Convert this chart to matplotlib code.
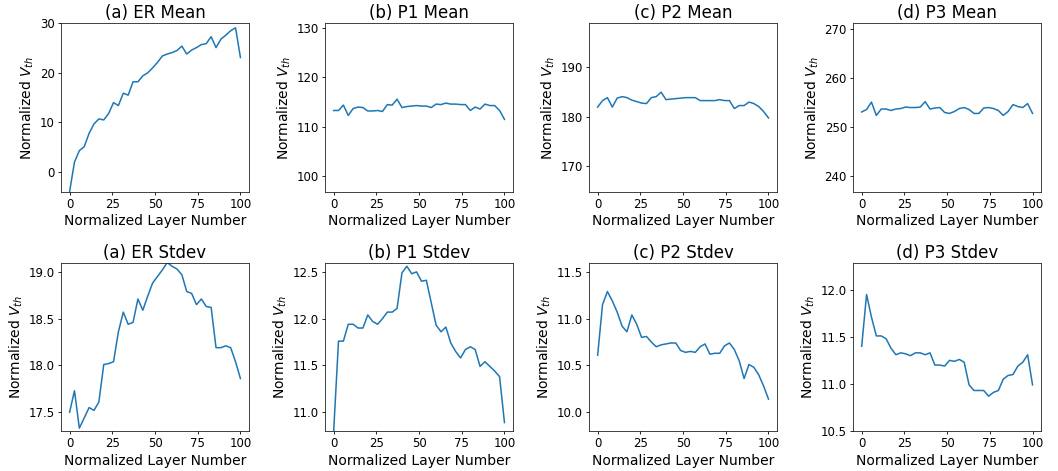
import numpy as np
import matplotlib
matplotlib.use('Agg')
import matplotlib.pyplot as plt

# 36 normalized layer positions (0..100)
layers = np.linspace(0, 100, 36)

er_mean = [-4.0, 2.0, 4.3, 5.1, 7.8, 9.7, 10.7, 10.5, 11.8, 14.0, 13.4, 15.9,
           15.5, 18.2, 18.2, 19.4, 20.0, 21.0, 22.1, 23.4, 23.8, 24.1, 24.5, 25.4,
           23.8, 24.6, 25.1, 25.7, 25.9, 27.3, 25.1, 26.8, 27.6, 28.5, 29.1, 23.1]
p1_mean = [113.3, 113.3, 114.4, 112.3, 113.7, 114.0, 113.9, 113.2, 113.2, 113.3, 113.1, 114.5,
           114.4, 115.6, 113.9, 114.1, 114.2, 114.3, 114.2, 114.2, 113.9, 114.6, 114.5, 114.8,
           114.6, 114.6, 114.5, 114.5, 113.3, 114.0, 113.6, 114.6, 114.3, 114.3, 113.3, 111.5]
p2_mean = [182.0, 183.3, 183.9, 182.0, 183.8, 184.1, 183.9, 183.4, 183.1, 182.8, 182.7, 183.9,
           184.1, 185.0, 183.5, 183.6, 183.7, 183.8, 183.9, 183.9, 183.9, 183.3, 183.3, 183.3,
           183.3, 183.5, 183.3, 183.3, 181.7, 182.3, 182.3, 183.0, 182.7, 182.1, 181.1, 179.8]
p3_mean = [253.1, 253.6, 255.1, 252.4, 253.7, 253.7, 253.4, 253.7, 253.8, 254.1, 254.0, 254.0,
           254.1, 255.2, 253.7, 253.9, 254.0, 253.0, 252.8, 253.2, 253.8, 254.0, 253.6, 252.8,
           252.8, 253.9, 254.0, 253.8, 253.4, 252.4, 253.2, 254.6, 254.2, 254.0, 254.8, 252.8]

er_std = [17.50, 17.73, 17.33, 17.44, 17.55, 17.52, 17.61, 18.01, 18.02, 18.04, 18.36, 18.57,
          18.44, 18.46, 18.71, 18.59, 18.74, 18.88, 18.95, 19.02, 19.10, 19.06, 19.03, 18.97,
          18.79, 18.77, 18.65, 18.71, 18.63, 18.62, 18.19, 18.19, 18.21, 18.19, 18.04, 17.86]
p1_std = [10.79, 11.76, 11.76, 11.94, 11.94, 11.90, 11.90, 12.04, 11.97, 11.94, 12.00, 12.07,
          12.07, 12.11, 12.49, 12.56, 12.48, 12.50, 12.40, 12.41, 12.17, 11.93, 11.86, 11.91,
          11.74, 11.65, 11.58, 11.67, 11.70, 11.67, 11.49, 11.54, 11.49, 11.44, 11.38, 10.89]
p2_std = [10.61, 11.15, 11.29, 11.19, 11.07, 10.92, 10.86, 11.04, 10.94, 10.80, 10.81, 10.75,
          10.70, 10.72, 10.73, 10.74, 10.74, 10.66, 10.64, 10.65, 10.64, 10.70, 10.73, 10.62,
          10.63, 10.63, 10.71, 10.74, 10.67, 10.55, 10.36, 10.51, 10.48, 10.40, 10.28, 10.14]
p3_std = [11.40, 11.95, 11.71, 11.51, 11.51, 11.48, 11.38, 11.31, 11.33, 11.32, 11.30, 11.33,
          11.33, 11.31, 11.33, 11.20, 11.20, 11.19, 11.25, 11.24, 11.26, 11.23, 10.99, 10.93,
          10.93, 10.93, 10.87, 10.91, 10.93, 11.05, 11.09, 11.10, 11.19, 11.23, 11.31, 10.99]

titles = ['(a) ER Mean', '(b) P1 Mean', '(c) P2 Mean', '(d) P3 Mean',
          '(a) ER Stdev', '(b) P1 Stdev', '(c) P2 Stdev', '(d) P3 Stdev']
series = [er_mean, p1_mean, p2_mean, p3_mean, er_std, p1_std, p2_std, p3_std]
ylims = [(-4.0, 30.0), (96.8, 131.0), (164.9, 198.9), (236.9, 271.1),
         (17.30, 19.10), (10.80, 12.60), (9.80, 11.60), (10.50, 12.29)]
yticks = [[0, 10, 20, 30], [100, 110, 120, 130], [170, 180, 190], [240, 250, 260, 270],
          [17.5, 18.0, 18.5, 19.0], [11.0, 11.5, 12.0, 12.5], [10.0, 10.5, 11.0, 11.5],
          [10.5, 11.0, 11.5, 12.0]]

plt.rcParams['font.size'] = 10
plt.rcParams['axes.linewidth'] = 0.6
plt.rcParams['axes.edgecolor'] = '#222222'

fig, axes = plt.subplots(2, 4, figsize=(10.58, 4.71), dpi=100)
fig.subplots_adjust(left=0.0577, right=0.984, top=0.9505, bottom=0.085,
                    wspace=0.405, hspace=0.42)

for ax, title, vals, yl, yt in zip(axes.flat, titles, series, ylims, yticks):
    ax.plot(layers, vals, color='tab:blue', linewidth=1.1)
    ax.set_title(title, fontsize=12, pad=3.5)
    ax.set_ylim(*yl)
    ax.set_yticks(yt)
    ax.set_xticks([0, 25, 50, 75, 100])
    ax.tick_params(labelsize=8.5, length=2.3, width=0.6, pad=2.2)
    ax.set_xlabel('Normalized Layer Number', labelpad=2.5)
    ax.set_ylabel('Normalized $V_{th}$', labelpad=2.5)

fig.savefig('out.png', dpi=100)
